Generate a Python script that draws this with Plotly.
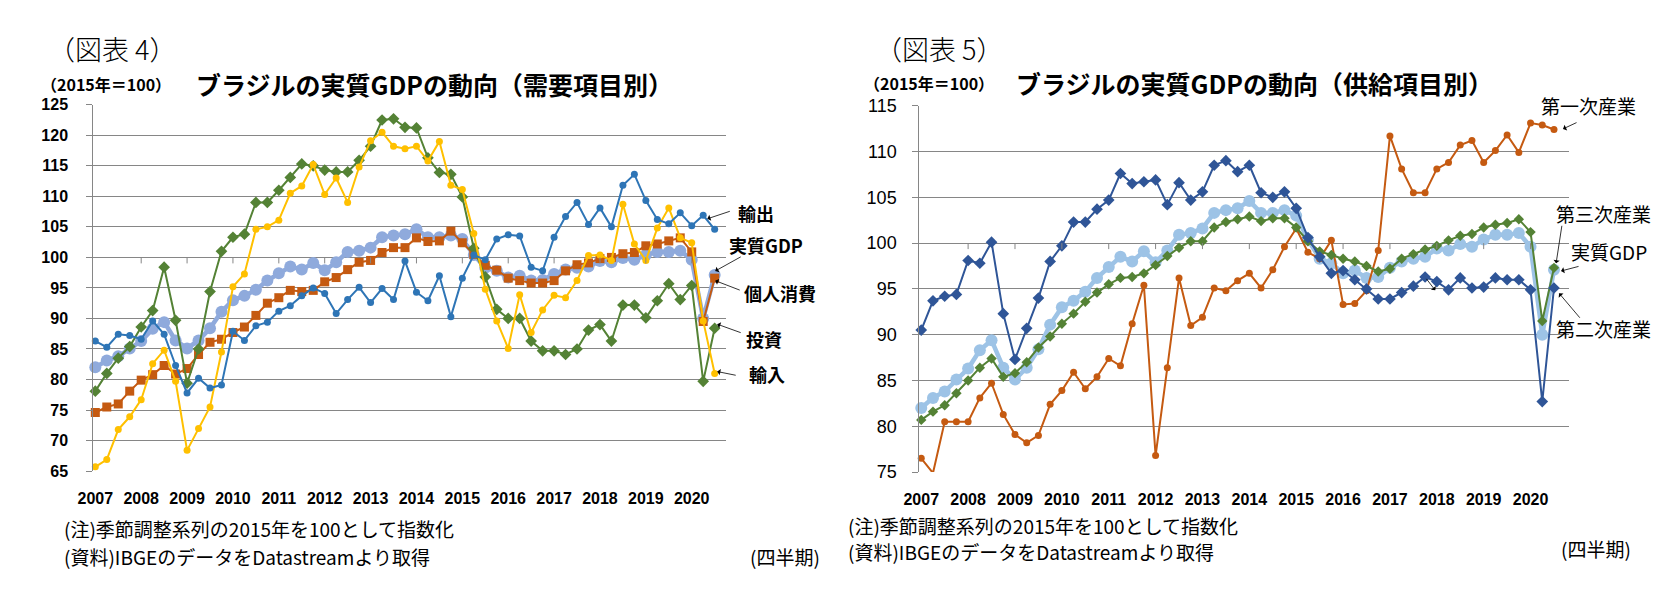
import plotly.graph_objects as go

W, H = 1670, 601

# ---------------- data (2007Q1 - 2020Q3, 2015 = 100) ----------------
years = ["2007", "2008", "2009", "2010", "2011", "2012", "2013",
         "2014", "2015", "2016", "2017", "2018", "2019", "2020"]

gdp = [82.0, 83.1, 83.8, 85.1, 86.3, 88.3, 89.4, 86.4, 85.1, 86.4,
       88.4, 91.1, 93.0, 93.7, 94.7, 96.2, 97.4, 98.5, 98.0, 99.1,
       97.9, 99.2, 100.9, 101.1, 101.6, 103.3, 103.6, 103.8, 104.6, 103.3,
       103.3, 103.6, 103.0, 100.4, 98.3, 97.8, 96.7, 97.0, 96.2, 96.3,
       97.3, 98.0, 98.3, 98.5, 99.4, 99.2, 99.9, 99.6, 100.4, 100.9,
       100.9, 101.1, 99.6, 90.0, 97.1]

exports = [86.3, 85.3, 87.4, 87.2, 86.6, 89.6, 87.4, 82.3, 77.8, 80.2,
           78.6, 79.1, 87.9, 86.4, 88.8, 89.4, 91.2, 92.1, 93.7, 95.0,
           94.1, 90.8, 93.1, 95.1, 92.6, 94.9, 93.1, 99.4, 94.3, 92.9,
           97.0, 90.3, 96.6, 100.4, 99.6, 103.0, 103.7, 103.5, 98.4, 97.8,
           103.3, 106.7, 109.0, 105.4, 108.1, 105.0, 111.8, 113.6, 109.3, 106.2,
           105.5, 107.3, 105.2, 106.9, 104.6]

imports = [65.7, 66.9, 71.8, 73.9, 76.7, 82.6, 84.8, 79.7, 68.4, 72.0,
           75.5, 84.5, 95.2, 97.3, 104.6, 105.0, 106.1, 110.5, 111.7, 115.2,
           110.3, 113.0, 109.0, 114.8, 119.1, 120.5, 118.2, 117.8, 118.2, 115.8,
           119.0, 111.8, 111.1, 103.9, 94.8, 89.6, 85.1, 93.9, 87.7, 91.4,
           93.8, 93.4, 96.2, 100.3, 100.4, 99.5, 108.7, 102.2, 99.5, 104.8,
           108.1, 103.2, 102.4, 89.6, 81.0]

investment = [78.1, 81.0, 83.5, 85.4, 88.6, 91.3, 98.4, 89.7, 79.4, 85.0,
              94.4, 101.0, 103.3, 103.8, 109.0, 109.0, 111.0, 113.1, 115.3, 115.0,
              114.3, 114.0, 114.0, 115.9, 118.2, 122.5, 122.7, 121.3, 121.2, 116.3,
              113.9, 113.6, 109.9, 101.5, 96.8, 91.5, 90.0, 90.0, 86.3, 84.7,
              84.7, 84.1, 85.0, 88.1, 89.0, 86.3, 92.2, 92.2, 90.1, 92.9,
              95.7, 93.1, 95.4, 79.7, 88.4]

consumption = [74.6, 75.5, 76.0, 78.1, 79.9, 80.8, 82.3, 80.9, 81.8, 84.1,
               86.1, 86.6, 87.7, 88.6, 90.5, 92.5, 93.4, 94.6, 94.4, 94.6,
               96.0, 96.7, 98.0, 99.2, 99.5, 100.8, 101.6, 101.6, 103.2, 102.6,
               102.7, 104.3, 102.4, 100.5, 98.7, 97.9, 96.6, 96.2, 95.8, 95.8,
               96.2, 97.8, 98.8, 99.1, 99.8, 100.0, 100.6, 100.8, 101.9, 102.2,
               102.7, 103.2, 100.9, 89.5, 96.6]

primary = [76.5, 74.9, 80.5, 80.5, 80.5, 83.1, 84.7, 81.3, 79.1, 78.2,
           79.0, 82.4, 83.9, 85.9, 84.1, 85.4, 87.4, 86.6, 91.2, 95.4,
           76.8, 86.4, 96.2, 91.0, 91.9, 95.1, 94.8, 95.9, 96.7, 95.1,
           97.1, 99.6, 101.6, 99.0, 98.3, 100.3, 93.3, 93.4, 94.8, 99.2,
           111.7, 108.1, 105.5, 105.5, 108.1, 108.8, 110.7, 111.2, 108.8, 110.1,
           111.8, 109.9, 113.1, 112.9, 112.4]

secondary = [90.5, 93.7, 94.2, 94.4, 98.1, 97.8, 100.1, 92.3, 87.3, 90.7,
             94.0, 98.0, 99.7, 102.3, 102.3, 103.7, 104.7, 107.6, 106.5, 106.7,
             106.9, 104.2, 106.6, 104.7, 105.6, 108.5, 109.0, 107.8, 108.5, 105.5,
             105.0, 105.6, 103.8, 100.6, 98.5, 96.7, 97.0, 96.0, 95.0, 93.9,
             93.9, 94.6, 95.3, 96.3, 95.8, 94.9, 96.2, 95.1, 95.2, 96.2,
             96.0, 96.0, 94.9, 82.7, 95.1]

tertiary = [80.7, 81.6, 82.3, 83.6, 85.0, 86.4, 87.4, 85.4, 85.8, 87.0,
            88.6, 89.8, 91.2, 92.3, 93.6, 94.6, 95.5, 96.2, 96.3, 96.7,
            97.6, 98.6, 99.5, 100.2, 100.2, 101.7, 102.3, 102.6, 102.9, 102.4,
            102.7, 102.7, 101.7, 100.2, 99.1, 98.7, 98.3, 98.0, 97.5, 96.9,
            97.2, 98.3, 98.8, 99.3, 99.7, 100.3, 100.8, 101.0, 101.7, 102.0,
            102.2, 102.6, 101.2, 91.5, 97.3]

# --------------------------------------------------------------------
xq = list(range(len(gdp)))            # quarter index
tickpos = [4 * k for k in range(len(years))]   # Q1 of each year

JP = "Noto Sans CJK JP"
NUM = "Liberation Sans, Arial"
GRID = "#868686"


def px(x, y):
    return x / W, 1 - y / H


fig = go.Figure()


def add_line(xa, ya, vals, color, symbol, msize, lw, name):
    fig.add_trace(go.Scatter(
        x=xq, y=vals, mode="lines+markers", name=name,
        line=dict(color=color, width=lw),
        marker=dict(color=color, symbol=symbol, size=msize, line=dict(width=0)),
        xaxis=xa, yaxis=ya, cliponaxis=False, showlegend=False))


# left chart (demand side)
add_line("x", "y", gdp, "#8FAADC", "circle", 12, 4.5, "実質GDP")
add_line("x", "y", consumption, "#C55A11", "square", 9, 2, "個人消費")
add_line("x", "y", investment, "#548235", "diamond", 9, 2, "投資")
add_line("x", "y", imports, "#FFC000", "circle", 7, 2, "輸入")
add_line("x", "y", exports, "#2E75B6", "circle", 7, 2, "輸出")

# right chart (supply side)
add_line("x2", "y2", gdp, "#9DC3E6", "circle", 12, 4.5, "実質GDP")
add_line("x2", "y2", primary, "#C55A11", "circle", 7, 2, "第一次産業")
add_line("x2", "y2", tertiary, "#548235", "diamond", 8, 2, "第三次産業")
add_line("x2", "y2", secondary, "#2F5597", "diamond", 9, 2, "第二次産業")

xcommon = dict(showgrid=False, zeroline=False, showline=False, ticks="",
               tickvals=tickpos, ticktext=years,
               tickfont=dict(family=NUM, size=16, color="#000", weight="bold"),
               ticklabelstandoff=16)
ycommon = dict(showgrid=True, gridcolor=GRID, gridwidth=1, zeroline=False,
               showline=True, linecolor=GRID, linewidth=1, ticks="outside",
               ticklen=6, tickcolor=GRID, dtick=5)

fig.update_layout(
    width=W, height=H, margin=dict(l=0, r=0, t=0, b=0),
    paper_bgcolor="white", plot_bgcolor="white",
    xaxis=dict(domain=[78 / W, 717 / W], range=[-0.18, 55.0], anchor="y", **xcommon),
    yaxis=dict(domain=[1 - 477 / H, 1 - 98 / H], range=[65, 125], anchor="x",
               ticklabelstandoff=15,
               tickfont=dict(family=NUM, size=16, color="#000", weight="bold"),
               **ycommon),
    xaxis2=dict(domain=[912 / W, 1568 / W], range=[-0.17, 55.28], anchor="y2", **xcommon),
    yaxis2=dict(domain=[1 - 478 / H, 1 - 99 / H], range=[75, 115], anchor="x2",
                ticklabelstandoff=12,
                tickfont=dict(family=NUM, size=18, color="#000"),
                **ycommon),
)

# category tick marks on the axis that crosses at 100
shapes = []
for xr, yr in (("x", "y"), ("x2", "y2")):
    for t in tickpos[1:]:
        shapes.append(dict(type="line", xref=xr, yref=yr, x0=t, x1=t,
                           ysizemode="pixel", yanchor=100, y0=0, y1=-6,
                           line=dict(color=GRID, width=1)))
fig.update_layout(shapes=shapes)

ann = []


def text(x, y, s, size, anchor="left", bold=False, family=JP, bg=None, weight=None):
    px_, py_ = px(x, y)
    d = dict(x=px_, y=py_, xref="paper", yref="paper", text=s, showarrow=False,
             xanchor=anchor, yanchor="middle",
             font=dict(family=family, size=size, color="#000",
                       weight=weight if weight else ("bold" if bold else "normal")))
    if bg:
        d["bgcolor"] = bg
    ann.append(d)


def arrow(tx, ty, hx, hy):
    x, y = px(hx, hy)
    ann.append(dict(x=x, y=y, xref="paper", yref="paper", text="", showarrow=True,
                    ax=tx - hx, ay=ty - hy, axref="pixel", ayref="pixel",
                    arrowhead=1, arrowsize=1.3, arrowwidth=0.8, arrowcolor="#000"))


# headers
text(30, 40, "（図表 4）", 27, weight=300)
text(865, 40, "（図表 5）", 27, weight=300)
text(23, 77, "（2015年＝100）", 16, bold=True)
text(854, 75, "（2015年＝100）", 16, bold=True)
text(180, 77, "ブラジルの実質GDPの動向（需要項目別）", 25, bold=True)
text(1008, 75, "ブラジルの実質GDPの動向（供給項目別）", 25, bold=True)

# footnotes
text(46, 536, "(注)季節調整系列の2015年を100として指数化", 19)
text(46, 565, "(資料)IBGEのデータをDatastreamより取得", 19)
text(814, 565, "(四半期)", 19, anchor="right")
text(838, 533, "(注)季節調整系列の2015年を100として指数化", 19)
text(838, 560, "(資料)IBGEのデータをDatastreamより取得", 19)
text(1633, 557, "(四半期)", 19, anchor="right")

# series labels, left
text(727, 210, "輸出", 18, bold=True)
text(718, 243, "実質GDP", 18, bold=True)
text(733, 293, "個人消費", 18, bold=True)
text(735, 340, "投資", 18, bold=True)
text(738, 377, "輸入", 18, bold=True)
arrow(722, 208, 698, 216)
arrow(733, 255, 706, 270)
arrow(732, 290, 706, 280)
arrow(733, 334, 708, 325)
arrow(728, 378, 708, 374)

# series labels, right
text(1538, 99, "第一次産業", 19, bg="white")
text(1553, 210, "第三次産業", 19)
text(1568, 250, "実質GDP", 19)
text(1553, 329, "第二次産業", 19)
arrow(1577, 116, 1562, 123)
arrow(1561, 223, 1555, 262)
arrow(1579, 265, 1560, 270)
arrow(1580, 319, 1558, 293)
arrow(1423, 277, 1433, 290)

fig.update_layout(annotations=ann)

fig.write_html("out.html", config={"displayModeBar": False},
               post_script="document.body.style.margin='0';document.body.style.overflow='hidden';")
